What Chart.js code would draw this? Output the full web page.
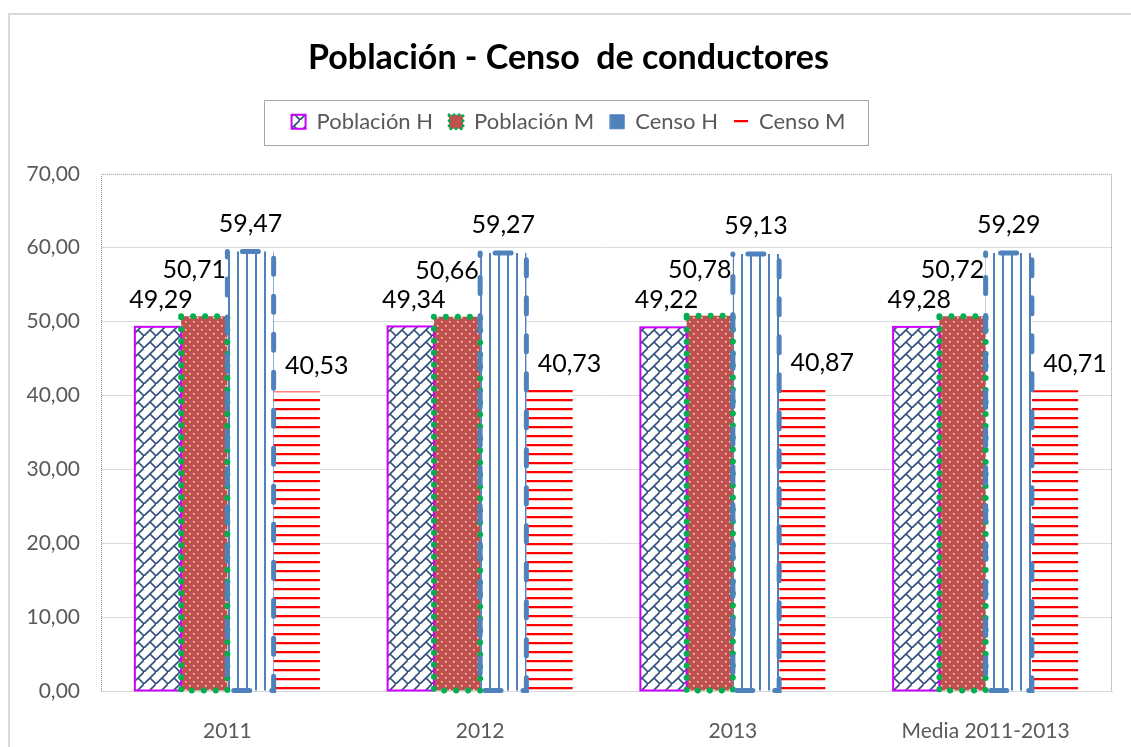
<!DOCTYPE html>
<html>
<head>
<meta charset="utf-8">
<script src="https://cdn.jsdelivr.net/npm/chart.js@4.4.1/dist/chart.umd.min.js"></script>
<style>
  html, body { margin: 0; padding: 0; background: #fff; }
</style>
</head>
<body>
<canvas id="grafico" width="1131" height="747"></canvas>
<script>
// datos del gráfico
const categorias = ['2011', '2012', '2013', 'Media 2011-2013'];
const poblacionH = [49.29, 49.34, 49.22, 49.28];
const poblacionM = [50.71, 50.66, 50.78, 50.72];
const censoH = [59.47, 59.27, 59.13, 59.29];
const censoM = [40.53, 40.73, 40.87, 40.71];

const fmt = v => v.toFixed(2).replace('.', ',');

// tramas tipo Excel
function trama(w, h, dibujar) {
  const c = document.createElement('canvas');
  c.width = w; c.height = h;
  const g = c.getContext('2d');
  dibujar(g, w, h);
  return g.createPattern(c, 'repeat');
}

const tramaPobH = trama(12, 12, (g) => {
  g.fillStyle = '#fff'; g.fillRect(0, 0, 12, 12);
  g.strokeStyle = '#2e4d7b'; g.lineWidth = 1.6;
  g.beginPath();
  g.moveTo(-1, 13); g.lineTo(13, -1);
  g.moveTo(6, 6); g.lineTo(12, 12);
  g.stroke();
});
const tramaPobM = trama(8, 8, (g) => {
  g.fillStyle = '#c0504d'; g.fillRect(0, 0, 8, 8);
  g.fillStyle = 'rgba(255,255,255,0.85)';
  g.fillRect(1, 1, 1.5, 1.5);
  g.fillRect(5, 5, 1.5, 1.5);
});
const tramaCensoH = trama(9, 4, (g) => {
  g.fillStyle = '#fff'; g.fillRect(0, 0, 9, 4);
  g.fillStyle = '#4f81bd'; g.fillRect(3, 0, 2, 4);
});
const tramaCensoM = trama(4, 9, (g) => {
  g.fillStyle = '#fff'; g.fillRect(0, 0, 4, 9);
  g.fillStyle = '#ff0000'; g.fillRect(0, 3, 4, 2);
  g.fillStyle = 'rgba(255,0,0,0.25)'; g.fillRect(0, 5, 4, 1);
});

// bordes de las barras (Chart.js no hace bordes punteados en barras)
const bordesBarras = {
  id: 'bordesBarras',
  afterDatasetsDraw(chart) {
    const ctx = chart.ctx;
    chart.data.datasets.forEach((ds, i) => {
      const b = ds.borde;
      if (!b) return;
      chart.getDatasetMeta(i).data.forEach(bar => {
        const { x, y, base, width } = bar.getProps(['x', 'y', 'base', 'width'], true);
        ctx.save();
        ctx.strokeStyle = b.color;
        ctx.lineWidth = b.ancho;
        ctx.lineCap = b.cap || 'butt';
        ctx.setLineDash(b.dash || []);
        ctx.lineDashOffset = b.offset || 0;
        ctx.strokeRect(x - width / 2, y, width, base - y);
        ctx.restore();
      });
    });
  }
};

// etiquetas de datos
const etiquetas = {
  id: 'etiquetas',
  afterDatasetsDraw(chart) {
    const ctx = chart.ctx;
    ctx.save();
    ctx.font = '25px Lato';
    ctx.fillStyle = '#000';
    ctx.textAlign = 'center';
    ctx.textBaseline = 'middle';
    chart.data.datasets.forEach((ds, i) => {
      const off = ds.etiqueta;
      chart.getDatasetMeta(i).data.forEach((bar, j) => {
        ctx.fillText(fmt(ds.data[j]), bar.x + off.dx, bar.y + off.dy);
      });
    });
    ctx.restore();
  }
};

// marcos: borde exterior, área de trazado punteada y caja de leyenda
const marcos = {
  id: 'marcos',
  beforeDraw(chart) {
    const ctx = chart.ctx;
    ctx.save();
    ctx.fillStyle = '#fff';
    ctx.fillRect(0, 0, chart.width, chart.height);
    ctx.strokeStyle = '#d9d9d9';
    ctx.lineWidth = 2;
    ctx.strokeRect(9, 14, 1300, 900);
    ctx.restore();
  },
  afterDraw(chart) {
    const ctx = chart.ctx;
    const a = chart.chartArea;
    ctx.save();
    ctx.strokeStyle = '#8c8c8c';
    ctx.lineWidth = 1;
    ctx.setLineDash([1, 1]);
    ctx.beginPath();
    ctx.moveTo(a.left + 0.5, a.bottom);
    ctx.lineTo(a.left + 0.5, a.top + 0.5);
    ctx.lineTo(a.right - 0.5, a.top + 0.5);
    ctx.lineTo(a.right - 0.5, a.bottom);
    ctx.stroke();

    const hb = chart.legend.legendHitBoxes;
    const l = Math.min(...hb.map(h => h.left)) - 28;
    const r = Math.max(...hb.map(h => h.left + h.width)) + 22;
    const cy = hb[0].top + hb[0].height / 2;
    ctx.setLineDash([]);
    ctx.strokeStyle = '#a6a6a6';
    ctx.strokeRect(Math.round(l) + 0.5, Math.round(cy - 22) + 0.5, Math.round(r - l), 45);
    ctx.restore();
  }
};

// espacio extra debajo de la leyenda
const huecoLeyenda = {
  id: 'huecoLeyenda',
  beforeLayout(chart) {
    const lg = chart.legend;
    if (!lg || lg._conHueco) return;
    const fit = lg.fit;
    lg.fit = function () { fit.call(this); this.height += 31; };
    lg._conHueco = true;
  }
};

Chart.defaults.font.family = 'Lato';

new Chart(document.getElementById('grafico'), {
  type: 'bar',
  data: {
    labels: categorias,
    datasets: [
      {
        label: 'Población H', data: poblacionH, backgroundColor: tramaPobH, borderWidth: 0,
        borde: { color: '#cc00ff', ancho: 2 },
        etiqueta: { dx: 3, dy: -27 },
        leyenda: { fill: tramaPobH, stroke: '#cc00ff', ancho: 2 }
      },
      {
        label: 'Población M', data: poblacionM, backgroundColor: tramaPobM, borderWidth: 0,
        borde: { color: '#00b050', ancho: 6, dash: [0, 12], cap: 'round' },
        etiqueta: { dx: -10, dy: -46 },
        leyenda: { fill: '#c0504d', stroke: '#00b050', ancho: 3, dash: [0, 5] }
      },
      {
        label: 'Censo H', data: censoH, backgroundColor: tramaCensoH, borderWidth: 0,
        borde: { color: '#4f81bd', ancho: 5, dash: [16, 22], cap: 'round', offset: 23 },
        etiqueta: { dx: 0, dy: -28 },
        leyenda: { fill: '#4f81bd', stroke: '#4f81bd', ancho: 1 }
      },
      {
        label: 'Censo M', data: censoM, backgroundColor: tramaCensoM, borderWidth: 0,
        etiqueta: { dx: 20, dy: -26 },
        leyenda: { fill: tramaCensoM, stroke: 'rgba(0,0,0,0)', ancho: 0 }
      }
    ]
  },
  options: {
    responsive: false,
    animation: false,
    categoryPercentage: 0.732,
    barPercentage: 1,
    layout: { padding: { top: 28, left: 25, right: 19, bottom: 0 } },
    plugins: {
      tooltip: { enabled: false },
      title: {
        display: true,
        text: 'Población - Censo  de conductores',
        color: '#000',
        font: { size: 34, weight: 'bold' },
        padding: { top: 10, bottom: 16 }
      },
      legend: {
        position: 'top',
        labels: {
          color: '#595959',
          font: { size: 22 },
          boxWidth: 14,
          boxHeight: 14,
          padding: 16,
          generateLabels(chart) {
            return chart.data.datasets.map((ds, i) => ({
              text: ds.label,
              fillStyle: ds.leyenda.fill,
              strokeStyle: ds.leyenda.stroke,
              lineWidth: ds.leyenda.ancho,
              lineDash: ds.leyenda.dash || [],
              lineCap: 'round',
              fontColor: '#595959',
              hidden: false,
              datasetIndex: i
            }));
          }
        }
      }
    },
    scales: {
      x: {
        grid: { display: false },
        border: { display: true, color: '#d9d9d9', width: 1 },
        ticks: { color: '#595959', font: { size: 21 }, padding: 20 },
        afterFit: (s) => { s.height = 56; }
      },
      y: {
        min: 0,
        max: 70,
        border: { display: false },
        grid: {
          drawTicks: false,
          color: (c) => (c.tick && c.tick.value === 70 ? 'rgba(0,0,0,0)' : '#d9d9d9')
        },
        ticks: { stepSize: 10, color: '#595959', font: { size: 21 }, padding: 21, callback: (v) => fmt(v) },
        afterFit: (s) => { s.width = 76; }
      }
    }
  },
  plugins: [huecoLeyenda, bordesBarras, etiquetas, marcos]
});
</script>
</body>
</html>
